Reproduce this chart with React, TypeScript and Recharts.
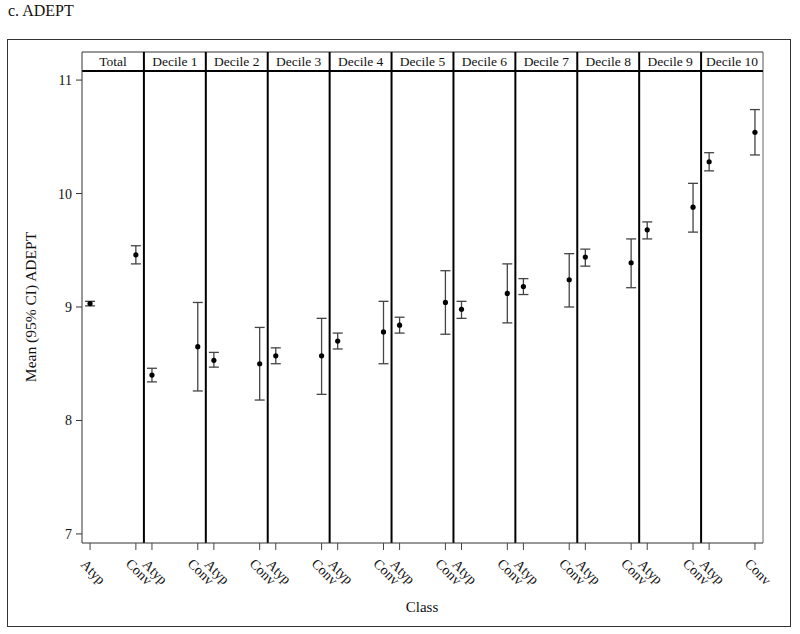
import React from 'react';
import {
  ComposedChart, Scatter, ErrorBar, XAxis, YAxis, ReferenceLine,
} from 'recharts';

const PANELS = ['Total', 'Decile 1', 'Decile 2', 'Decile 3', 'Decile 4', 'Decile 5', 'Decile 6', 'Decile 7', 'Decile 8', 'Decile 9', 'Decile 10'];
const CLASSES = ['Atyp', 'Conv'];
const Y_TICKS = [7, 8, 9, 10, 11];

const atypMean = [9.03, 8.40, 8.53, 8.57, 8.70, 8.84, 8.98, 9.18, 9.44, 9.68, 10.28];
const atypLow = [9.01, 8.34, 8.47, 8.50, 8.63, 8.77, 8.90, 9.11, 9.36, 9.60, 10.20];
const atypHigh = [9.05, 8.46, 8.60, 8.64, 8.77, 8.91, 9.05, 9.25, 9.51, 9.75, 10.36];

const convMean = [9.46, 8.65, 8.50, 8.57, 8.78, 9.04, 9.12, 9.24, 9.39, 9.88, 10.54];
const convLow = [9.38, 8.26, 8.18, 8.23, 8.50, 8.76, 8.86, 9.00, 9.17, 9.66, 10.34];
const convHigh = [9.54, 9.04, 8.82, 8.90, 9.05, 9.32, 9.38, 9.47, 9.60, 10.09, 10.74];

const CLASS_OFFSET = [0.13, 0.87];

const data: any[] = [];
PANELS.forEach((p, i) => {
  const means = [atypMean[i], convMean[i]];
  const lows = [atypLow[i], convLow[i]];
  const highs = [atypHigh[i], convHigh[i]];
  CLASSES.forEach((c, k) => {
    data.push({
      x: i + CLASS_OFFSET[k],
      y: means[k],
      err: [means[k] - lows[k], highs[k] - means[k]],
      cls: c,
    });
  });
});

const FONT = '"Liberation Serif", "DejaVu Serif", serif';
const W = 800;
const H = 634;
const M = { top: 52, right: 37, bottom: 0, left: 0 };
const YW = 82;
const PLOT_W = W - YW - M.right;
const PANEL_W = PLOT_W / PANELS.length;
const HEADER_H = 19;

const HeaderTick = (props: any) => {
  const { x, y, payload } = props;
  const idx = Math.round(payload.value - 0.5);
  const left = x - PANEL_W / 2;
  const right = x + PANEL_W / 2;
  return (
    <g>
      <line x1={left} y1={y - HEADER_H} x2={right} y2={y - HEADER_H} stroke="#333" strokeWidth={1} />
      <line x1={left} y1={y - HEADER_H} x2={left} y2={y} stroke={idx === 0 ? '#333' : '#000'} strokeWidth={idx === 0 ? 1 : 2} />
      {idx === PANELS.length - 1 && (
        <line x1={right} y1={y - HEADER_H} x2={right} y2={y} stroke="#555" strokeWidth={1} />
      )}
      <text x={x} y={y - 5} textAnchor="middle" fontFamily={FONT} fontSize={13.5} fill="#111">
        {PANELS[idx]}
      </text>
    </g>
  );
};

const ClassTick = (props: any) => {
  const { x, index } = props;
  const cx = x + 3;
  const cy = 572;
  return (
    <text
      x={cx}
      y={cy}
      transform={`rotate(45 ${cx} ${cy})`}
      textAnchor="middle"
      dominantBaseline="central"
      fontFamily={FONT}
      fontSize={14}
      fill="#111"
    >
      {data[index] ? data[index].cls : ''}
    </text>
  );
};

const YLabel = () => (
  <text x={30} y={307} transform="rotate(-90 30 307)" textAnchor="middle" dominantBaseline="central" fontFamily={FONT} fontSize={15.5} fill="#111">
    Mean (95% CI) ADEPT
  </text>
);

const XLabel = () => (
  <text x={422} y={607} textAnchor="middle" dominantBaseline="central" fontFamily={FONT} fontSize={15} fill="#111">
    Class
  </text>
);

const Dot = (p: any) => <circle cx={p.cx} cy={p.cy} r={2.6} fill="#000" />;

export default function App() {
  return (
    <div style={{ position: 'absolute', left: 0, top: 0, width: W, height: H, background: '#fff' }}>
      <div style={{ position: 'absolute', left: 8, top: 1, fontFamily: FONT, fontSize: 16, color: '#111', lineHeight: '20px' }}>
        c. ADEPT
      </div>
      <div style={{ position: 'absolute', left: 7, top: 39, width: 784, height: 588, border: '1.5px solid #333', boxSizing: 'border-box' }} />
      <div style={{ position: 'absolute', left: 0, top: 0 }}>
        <ComposedChart width={W} height={H} data={data} margin={M}>
          <XAxis
            xAxisId="top"
            orientation="top"
            dataKey="x"
            type="number"
            domain={[0, 11]}
            allowDataOverflow
            ticks={PANELS.map((_, i) => i + 0.5)}
            interval={0}
            height={HEADER_H}
            tickSize={0}
            tickMargin={0}
            tickLine={false}
            axisLine={{ stroke: '#000', strokeWidth: 2 }}
            tick={<HeaderTick />}
          />
          <XAxis
            xAxisId="bottom"
            dataKey="x"
            type="number"
            domain={[0, 11]}
            allowDataOverflow
            ticks={data.map((d) => d.x)}
            interval={0}
            height={91}
            tickSize={7}
            tickLine={{ stroke: '#444' }}
            axisLine={{ stroke: '#333' }}
            tick={<ClassTick />}
            label={<XLabel />}
          />
          <YAxis
            yAxisId="y"
            type="number"
            domain={[6.92, 11.08]}
            ticks={Y_TICKS}
            allowDataOverflow
            width={YW}
            tickSize={6}
            tickMargin={4}
            tickLine={{ stroke: '#333' }}
            axisLine={{ stroke: '#333' }}
            tick={{ fontFamily: FONT, fontSize: 14, fill: '#111' }}
            label={<YLabel />}
          />
          {PANELS.slice(1).map((_, i) => (
            <ReferenceLine key={i} xAxisId="bottom" yAxisId="y" x={i + 1} stroke="#000" strokeWidth={2} />
          ))}
          <ReferenceLine xAxisId="bottom" yAxisId="y" x={11} stroke="#666" strokeWidth={1} />
          <Scatter
            xAxisId="bottom"
            yAxisId="y"
            dataKey="y"
            data={data}
            shape={<Dot />}
            isAnimationActive={false}
          >
            <ErrorBar dataKey="err" direction="y" width={5} stroke="#444" strokeWidth={1.3} isAnimationActive={false} />
          </Scatter>
        </ComposedChart>
      </div>
    </div>
  );
}
